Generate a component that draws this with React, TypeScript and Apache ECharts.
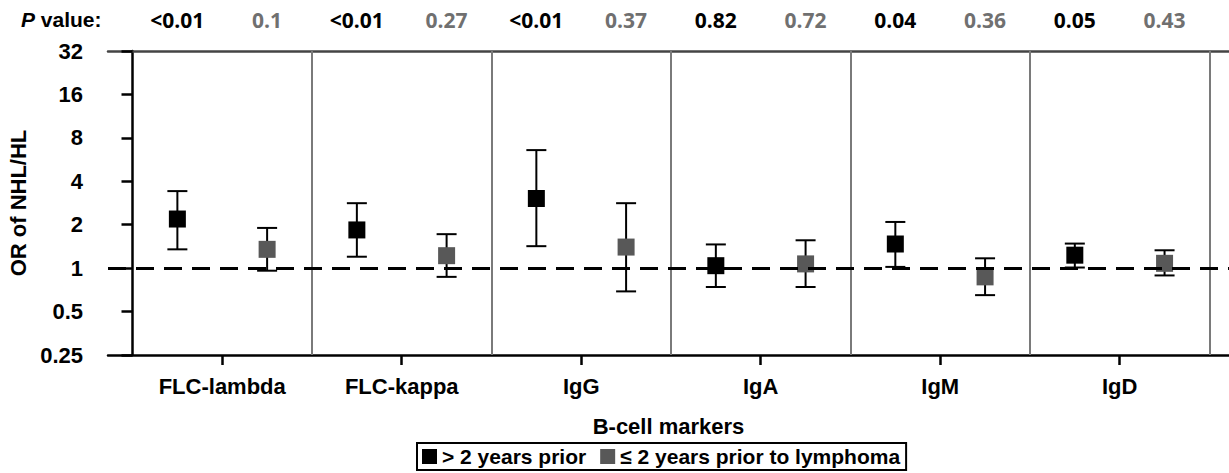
import React, { useEffect, useRef } from "react";
import * as echarts from "echarts";

const categories = ["FLC-lambda", "FLC-kappa", "IgG", "IgA", "IgM", "IgD"];
const seriesNames = ["> 2 years prior", "≤ 2 years prior to lymphoma"];
const pBefore = ["<0.01", "<0.01", "<0.01", "0.82", "0.04", "0.05"];
const pRecent = ["0.1", "0.27", "0.37", "0.72", "0.36", "0.43"];
const orBefore = [2.19, 1.84, 3.04, 1.04, 1.47, 1.23];
const lowBefore = [1.35, 1.2, 1.42, 0.74, 1.02, 1.01];
const highBefore = [3.42, 2.82, 6.58, 1.46, 2.09, 1.48];
const orRecent = [1.35, 1.22, 1.4, 1.07, 0.87, 1.08];
const lowRecent = [0.96, 0.87, 0.69, 0.74, 0.65, 0.89];
const highRecent = [1.9, 1.72, 2.82, 1.56, 1.17, 1.33];
const yTicks = [0.25, 0.5, 1, 2, 4, 8, 16, 32];

const FONT = "'Liberation Sans', Arial, sans-serif";

export default function App() {
  const ref = useRef<HTMLDivElement>(null);
  useEffect(() => {
    if (!ref.current) return;
    const chart = echarts.init(ref.current, undefined, { renderer: "svg" });

    const posBefore = (i: number) => i + 0.25;
    const posRecent = (i: number) => i + 0.75;
    const boundaries = categories.map((_, i) => i + 1);
    const centers = categories.map((_, i) => i + 0.5);

    const errData = (pos: (i: number) => number, low: number[], high: number[]) =>
      categories.map((_, i) => [pos(i), low[i], high[i]]);

    const errRender = (params: any, api: any) => {
      const x = api.value(0);
      const lo = api.coord([x, api.value(1)]);
      const hi = api.coord([x, api.value(2)]);
      const half = 10;
      const style = { stroke: "#000", lineWidth: 2 };
      return {
        type: "group",
        children: [
          { type: "line", shape: { x1: lo[0], y1: lo[1], x2: hi[0], y2: hi[1] }, style },
          { type: "line", shape: { x1: hi[0] - half, y1: hi[1], x2: hi[0] + half, y2: hi[1] }, style },
          { type: "line", shape: { x1: lo[0] - half, y1: lo[1], x2: lo[0] + half, y2: lo[1] }, style },
        ],
      };
    };

    const pRender = (labels: string[], color: string) => (params: any, api: any) => {
      const c = api.coord([api.value(0), api.value(1)]);
      return {
        type: "text",
        x: c[0],
        y: c[1] - 31,
        style: {
          text: labels[params.dataIndex],
          fill: color,
          fontSize: 21,
          fontWeight: "bold",
          fontFamily: "'Open Sans', 'Liberation Sans', sans-serif",
          align: "center",
          verticalAlign: "middle",
        },
      };
    };

    const option: any = {
      animation: false,
      title: {
        text: "{i|P}{b| value:}",
        left: 21,
        top: 9,
        padding: 0,
        textStyle: {
          rich: {
            i: { fontSize: 21, fontWeight: "bold", fontStyle: "italic", fontFamily: FONT, color: "#000" },
            b: { fontSize: 21, fontWeight: "bold", fontFamily: FONT, color: "#000" },
          },
        },
      },
      legend: {
        data: seriesNames,
        left: 417,
        top: 443,
        orient: "horizontal",
        icon: "rect",
        itemWidth: 15,
        itemHeight: 15,
        itemGap: 14,
        padding: [3, 6, 3, 5],
        borderColor: "#000",
        borderWidth: 2,
        textStyle: { fontSize: 21, fontWeight: "bold", fontFamily: FONT, color: "#000" },
      },
      grid: { left: 108, right: 0, top: 51, bottom: 118, containLabel: false, outerBoundsMode: "none" },
      xAxis: [
        {
          type: "value",
          min: -0.1365,
          max: 6.109,
          position: "bottom",
          name: "B-cell markers",
          nameLocation: "middle",
          nameGap: 60,
          nameTextStyle: { fontSize: 22, fontWeight: "bold", fontFamily: FONT, color: "#000" },
          axisLine: { show: true, lineStyle: { color: "#000", width: 2.5 } },
          axisTick: { show: true, customValues: centers, length: 10, lineStyle: { color: "#000", width: 2.5 } },
          axisLabel: {
            customValues: centers,
            formatter: (v: number) => categories[Math.round(v - 0.5)] ?? "",
            margin: 20,
            fontSize: 22,
            fontWeight: "bold",
            fontFamily: FONT,
            color: "#000",
          },
          splitLine: { show: false },
        },
        {
          type: "value",
          min: -0.1365,
          max: 6.109,
          position: "top",
          axisLine: { show: true, lineStyle: { color: "#444", width: 2.5 } },
          axisTick: { show: false },
          axisLabel: { show: false },
          splitLine: { show: false },
        },
      ],
      yAxis: {
        type: "log",
        logBase: 2,
        min: 0.25,
        max: 32,
        name: "OR of NHL/HL",
        nameLocation: "middle",
        nameGap: 75,
        nameTextStyle: { fontSize: 22, fontWeight: "bold", fontFamily: FONT, color: "#000" },
        axisLine: { show: true, lineStyle: { color: "#000", width: 2.5 } },
        axisTick: { show: true, customValues: yTicks, length: 11, lineStyle: { color: "#000", width: 2.5 } },
        axisLabel: {
          customValues: yTicks,
          formatter: (v: number) => String(v),
          margin: 25,
          fontSize: 22,
          fontWeight: "bold",
          fontFamily: FONT,
          color: "#000",
        },
        splitLine: { show: false },
      },
      series: [
        {
          type: "scatter",
          name: "separators",
          data: [],
          silent: true,
          z: 1,
          markLine: {
            silent: true,
            symbol: "none",
            label: { show: false },
            lineStyle: { color: "#7a7a7a", width: 2, type: "solid" },
            data: boundaries.map((b) => ({ xAxis: b })),
          },
        },
        {
          type: "custom",
          name: "errBefore",
          renderItem: errRender,
          data: errData(posBefore, lowBefore, highBefore),
          z: 3,
        },
        {
          type: "custom",
          name: "errRecent",
          renderItem: errRender,
          data: errData(posRecent, lowRecent, highRecent),
          z: 3,
        },
        {
          type: "scatter",
          name: seriesNames[0],
          symbol: "rect",
          symbolSize: 17,
          itemStyle: { color: "#000", opacity: 1 },
          data: orBefore.map((v, i) => [posBefore(i), v]),
          z: 4,
        },
        {
          type: "scatter",
          name: seriesNames[1],
          symbol: "rect",
          symbolSize: 17,
          itemStyle: { color: "#585858", opacity: 1 },
          data: orRecent.map((v, i) => [posRecent(i), v]),
          z: 4,
        },
        {
          type: "scatter",
          name: "reference",
          data: [],
          silent: true,
          z: 6,
          markLine: {
            silent: true,
            symbol: "none",
            label: { show: false },
            lineStyle: { color: "#000", width: 3, type: [18, 10] },
            data: [{ yAxis: 1 }],
          },
        },
        {
          type: "custom",
          name: "pBefore",
          renderItem: pRender(pBefore, "#000"),
          data: categories.map((_, i) => [posBefore(i), 32]),
          clip: false,
          z: 5,
        },
        {
          type: "custom",
          name: "pRecent",
          renderItem: pRender(pRecent, "#707070"),
          data: categories.map((_, i) => [posRecent(i), 32]),
          clip: false,
          z: 5,
        },
      ],
    };
    chart.setOption(option);
    return () => chart.dispose();
  }, []);

  return (
    <div
      ref={ref}
      style={{ position: "fixed", left: 0, top: 0, width: 1229, height: 473, background: "#fff" }}
    />
  );
}
